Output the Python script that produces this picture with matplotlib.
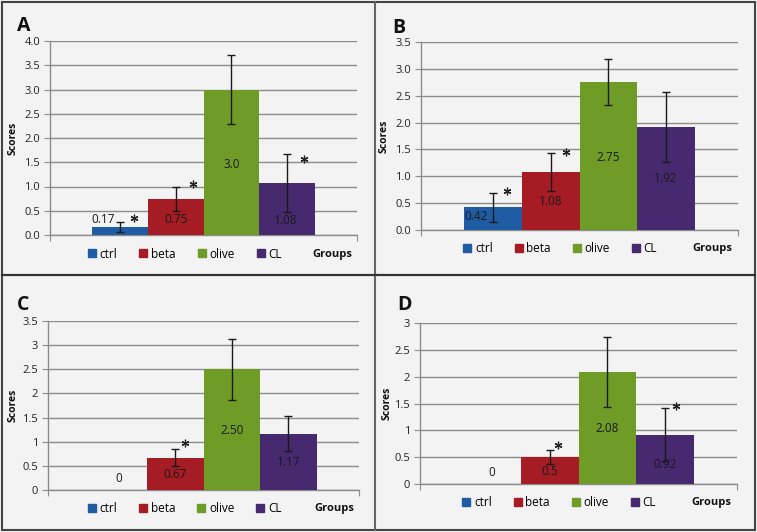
import matplotlib
matplotlib.use("Agg")
import matplotlib.pyplot as plt
from matplotlib.lines import Line2D
from matplotlib.patches import Rectangle
from matplotlib.ticker import FuncFormatter, MultipleLocator

plt.rcParams['font.family'] = ['Open Sans', 'DejaVu Sans']

# ---------------- data ----------------
groups = ["ctrl", "beta", "olive", "CL"]
colors = ["#1F5CA3", "#A51C24", "#6E9C27", "#46296E"]

panel_letters = ["A", "B", "C", "D"]

scores_A = [0.17, 0.75, 3.0, 1.08]
scores_B = [0.42, 1.08, 2.75, 1.92]
scores_C = [0.0, 0.67, 2.50, 1.17]
scores_D = [0.0, 0.5, 2.08, 0.92]

err_A = [0.10, 0.25, 0.72, 0.60]
err_B = [0.27, 0.36, 0.43, 0.65]
err_C = [0.0, 0.17, 0.63, 0.36]
err_D = [0.0, 0.13, 0.65, 0.50]

labels_A = ["0.17", "0.75", "3.0", "1.08"]
labels_B = ["0.42", "1.08", "2.75", "1.92"]
labels_C = ["0", "0.67", "2.50", "1.17"]
labels_D = ["0", "0.5", "2.08", "0.92"]

signif_A = [True, True, False, True]
signif_B = [True, True, False, False]
signif_C = [False, True, False, False]
signif_D = [False, True, False, True]

ymax_list = [4.0, 3.5, 3.5, 3.0]

# ---------------- layout (pixels) ----------------
W, H = 757, 532
# left, right, top, bottom of each axes in pixels
ax_px = [(50, 357, 41, 235), (421, 738, 42, 230), (48, 359, 321, 490), (420, 737, 323, 484)]
letter_px = [(17, 26), (392, 28), (17, 305), (397, 305)]
ylabel_px = [13, 384, 13, 387]
# data-label positions (x offset in bar widths, y in data units)
lab_dx = [[-0.30, 0, 0, -0.03], [-0.29, 0, 0, 0], [0, 0, 0, 0], [0, 0, 0, 0]]
lab_y = [[0.31, 0.31, 1.46, 0.30], [0.25, 0.53, 1.35, 0.95], [0.24, 0.32, 1.24, 0.57], [0.22, 0.24, 1.04, 0.36]]
# star offsets (x in bar widths, y in data units)
star_dx = [[0.25, 0.31, 0, 0.30], [0.24, 0.26, 0, 0], [0, 0.18, 0, 0], [0, 0.15, 0, 0.20]]
star_y = [[0.36, 1.05, 0, 1.57], [0.73, 1.46, 0, 0], [0, 0.97, 0, 0], [0, 0.72, 0, 1.45]]
fmt_general = [False, False, True, True]

all_scores = [scores_A, scores_B, scores_C, scores_D]
all_err = [err_A, err_B, err_C, err_D]
all_labels = [labels_A, labels_B, labels_C, labels_D]
all_sig = [signif_A, signif_B, signif_C, signif_D]

bg = "#F3F3F3"
grid_c = "#8C8C8C"

fig = plt.figure(figsize=(W / 100, H / 100), dpi=100, facecolor=bg)

xpos = [-1.5, -0.5, 0.5, 1.5]

for i in range(4):
    l, r, t, b = ax_px[i]
    ax = fig.add_axes([l / W, (H - b) / H, (r - l) / W, (b - t) / H])
    ax.set_facecolor(bg)
    vals = all_scores[i]
    errs = all_err[i]
    ax.bar(xpos, vals, width=1.0, color=colors, zorder=3)
    for j in range(4):
        if errs[j] > 0:
            ax.errorbar(xpos[j], vals[j], yerr=errs[j], fmt='none', ecolor='#1a1a1a',
                        elinewidth=1.0, capsize=3, capthick=1.0, zorder=4)
        ax.text(xpos[j] + lab_dx[i][j], lab_y[i][j], all_labels[i][j], ha='center', va='center',
                fontsize=8.5, color='#1a1a1a', zorder=5)
        if all_sig[i][j]:
            ax.plot(xpos[j] + star_dx[i][j], star_y[i][j], marker=(6, 2, 0), markersize=5.5,
                    color='#222222', markeredgewidth=0.9, zorder=5)
    ax.set_xlim(-2.75, 2.75)
    ax.set_ylim(0, ymax_list[i])
    ax.yaxis.set_major_locator(MultipleLocator(0.5))
    if fmt_general[i]:
        ax.yaxis.set_major_formatter(FuncFormatter(lambda v, p: f"{v:g}"))
    else:
        ax.yaxis.set_major_formatter(FuncFormatter(lambda v, p: f"{v:.1f}"))
    ax.grid(axis='y', color=grid_c, linewidth=1.0, zorder=0)
    ax.set_axisbelow(True)
    for s in ['top', 'right']:
        ax.spines[s].set_visible(False)
    for s in ['left', 'bottom']:
        ax.spines[s].set_color(grid_c)
        ax.spines[s].set_linewidth(1.0)
    ax.set_xticks([-2.75, 2.75])
    ax.set_xticklabels(["", ""])
    ax.tick_params(axis='x', direction='out', length=4, color=grid_c)
    ax.tick_params(axis='y', direction='out', length=4, color=grid_c, labelsize=8,
                   labelcolor='#222222', pad=3)
    # y label
    fig.text(ylabel_px[i] / W, (H - (t + b) / 2) / H, "Scores", rotation=90, ha='center',
             va='center', fontsize=7.5, fontweight='bold', color='#111111')
    # panel letter
    fig.text(letter_px[i][0] / W, (H - letter_px[i][1]) / H, panel_letters[i], ha='left',
             va='center', fontsize=14, fontweight='bold', color='#111111')
    # legend
    handles = [Line2D([], [], marker='s', linestyle='none', markersize=6, color=c) for c in colors]
    ax.legend(handles, groups, loc='center', bbox_to_anchor=(0.44, -19 / (b - t)),
              ncol=4, frameon=False, fontsize=8.5, handlelength=0.6, handletextpad=0.35,
              columnspacing=1.9, borderaxespad=0)
    ax.text(0.92, -19 / (b - t), "Groups", transform=ax.transAxes, ha='center', va='center',
            fontsize=8, fontweight='bold', color='#111111')

# panel separators and border
fig.add_artist(Line2D([375 / W, 375 / W], [2 / H, 1 - 2 / H], color='#666666', linewidth=1.5))
fig.add_artist(Line2D([2 / W, 1 - 2 / W], [(H - 275) / H, (H - 275) / H], color='#333333', linewidth=1.6))
fig.add_artist(Rectangle((2 / W, 2 / H), 1 - 4 / W, 1 - 4 / H, fill=False, edgecolor='#444444',
                         linewidth=1.5, transform=fig.transFigure))

fig.savefig("out.png", dpi=100, facecolor=bg)
